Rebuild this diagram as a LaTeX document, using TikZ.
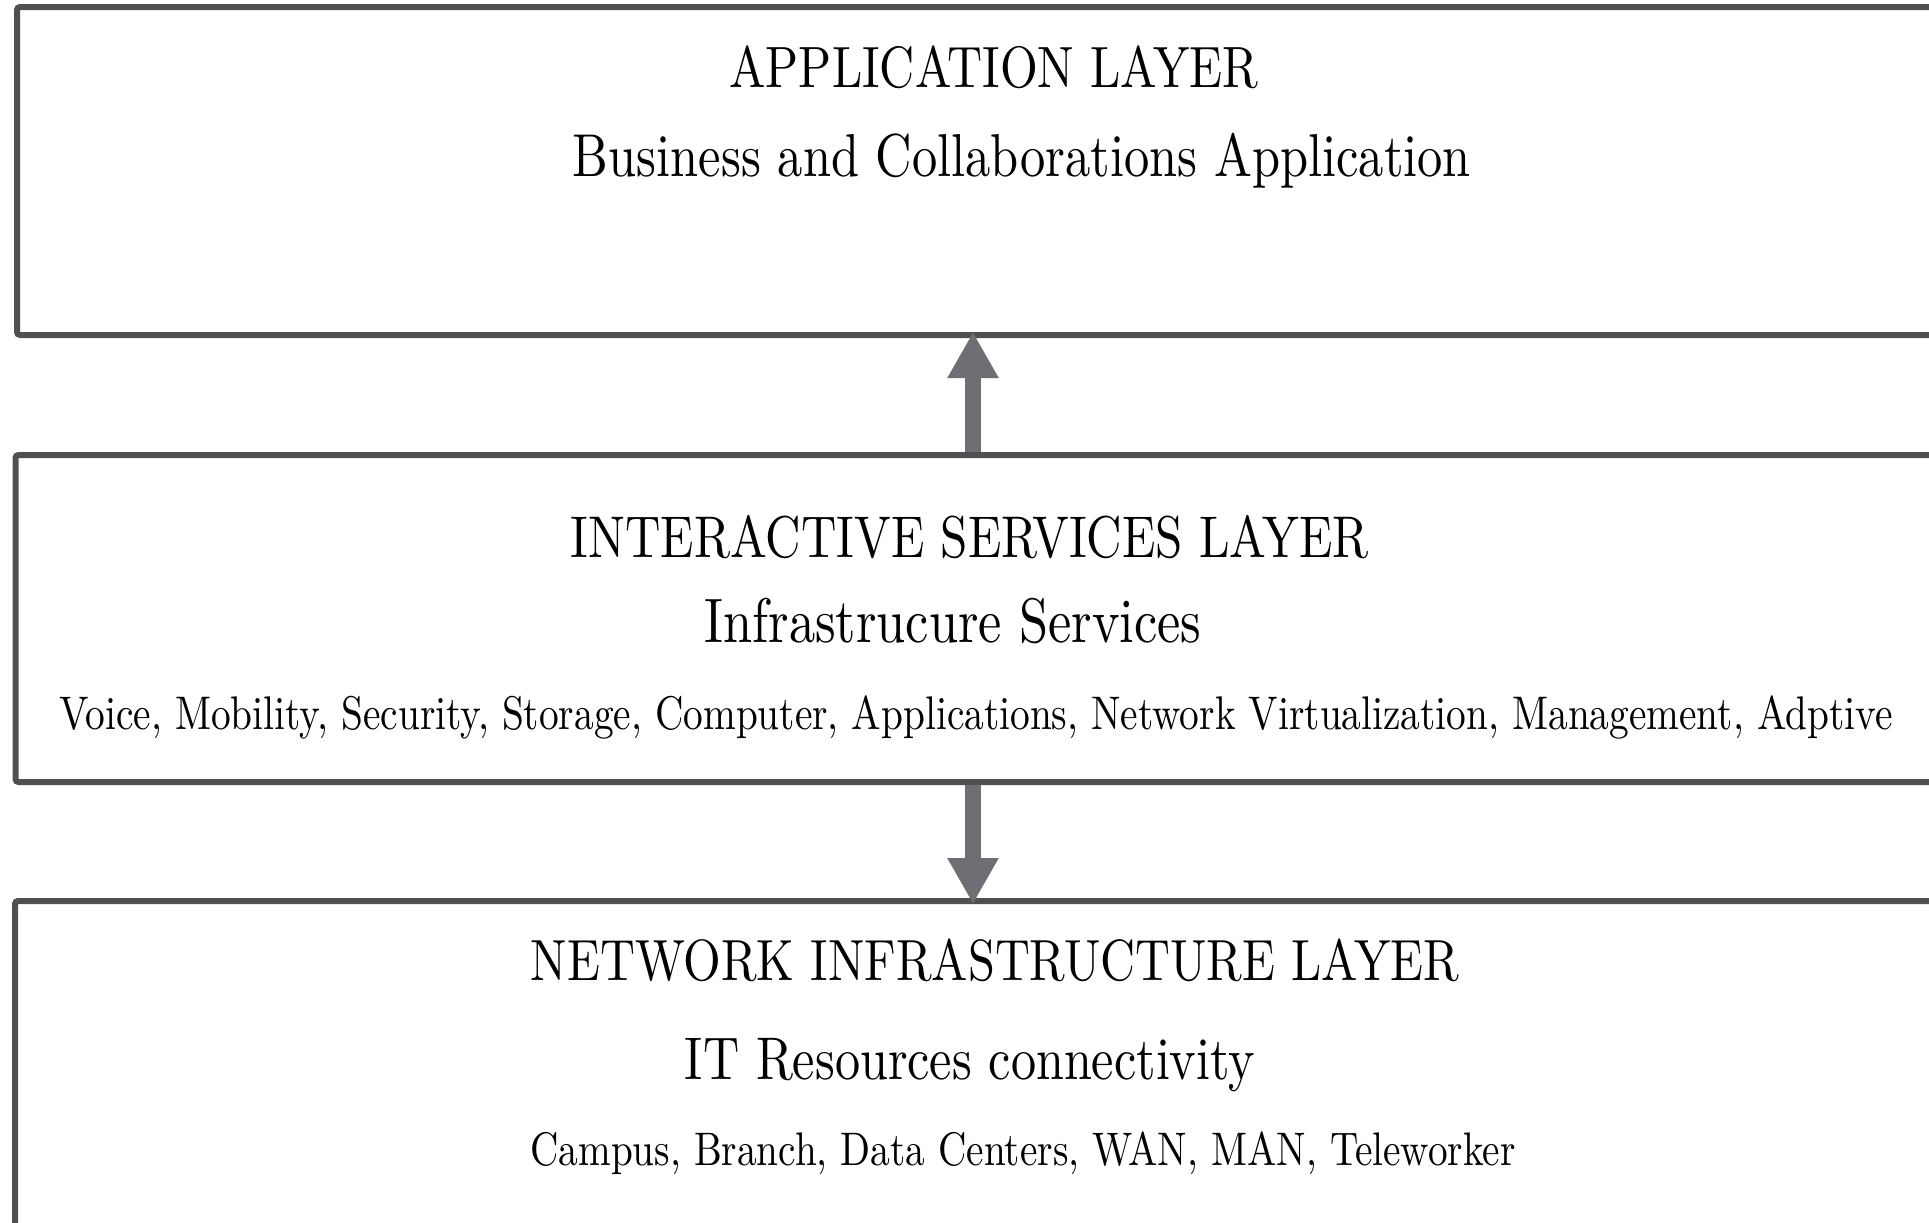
\documentclass[tikz,border=0pt]{standalone}
\usetikzlibrary{arrows.meta}
\definecolor{boxline}{RGB}{80,80,80}
\definecolor{arrowgray}{RGB}{110,110,116}
\newcommand{\fitw}[2]{\scalebox{1}[1.2]{\resizebox{#1}{!}{#2}}}
\begin{document}
\begin{tikzpicture}[x=0.5pt,y=-0.5pt,
  layerbox/.style={draw=boxline, line width=3pt, rounded corners=1.5pt, fill=white, inner sep=0pt, anchor=north west},
  txt/.style={inner sep=0pt, anchor=base, text=black},
  bigarrow/.style={draw=arrowgray, line width=8pt, -{Triangle[length=23pt,width=24pt]}, arrowgray, shorten >=-3pt}]
\useasboundingbox (0,0) rectangle (1929,1222);
\clip (0,0) rectangle (1929,1222);
\fill[white] (0,0) rectangle (1929,1222);
\coordinate (ax) at (973,0);
\node[layerbox, minimum width=1100pt, minimum height=164pt] (app) at (14,4) {};
\node[layerbox, minimum width=1100pt, minimum height=163.5pt] (svc) at (12.5,452) {};
\node[layerbox, minimum width=1100pt, minimum height=300pt] (net) at (12,898) {};
\draw[bigarrow] (svc.north -| ax) -- (app.south -| ax);
\draw[bigarrow] (svc.south -| ax) -- (net.north -| ax);
% texts
\node[txt] (t1) at (994,87) {\fitw{264.5pt}{APPLICATION LAYER}};
\node[txt] (t2) at (1022,176) {\fitw{449pt}{Business and Collaborations Application}};
\node[txt] (t3) at (970,557) {\fitw{399pt}{INTERACTIVE SERVICES LAYER}};
\node[txt] (t4) at (953,642) {\fitw{248.5pt}{Infrastrucure Services}};
\node[txt] (t5) at (976,729) {\fitw{916.5pt}{Voice, Mobility, Security, Storage, Computer, Applications, Network Virtualization, Management, Adptive}};
\node[txt] (t6) at (995,980) {\fitw{464pt}{NETWORK INFRASTRUCTURE LAYER}};
\node[txt] (t7) at (970,1079) {\fitw{285pt}{IT Resources connectivity}};
\node[txt] (t8) at (1023,1165) {\fitw{492.5pt}{Campus, Branch, Data Centers, WAN, MAN, Teleworker}};
\end{tikzpicture}
\end{document}
